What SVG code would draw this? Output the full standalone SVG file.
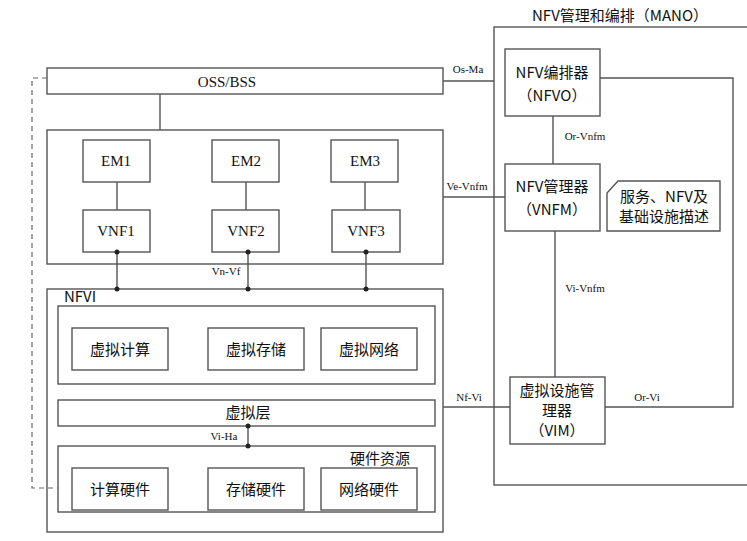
<svg xmlns="http://www.w3.org/2000/svg" width="747" height="541" viewBox="0 0 747 541">
<style>
.b{fill:#fff;stroke:#555;stroke-width:1.4}
.n{fill:none;stroke:#555;stroke-width:1.4}
.l{fill:none;stroke:#555;stroke-width:1.4}
.d{fill:none;stroke:#666;stroke-width:1.2;stroke-dasharray:5,4}
text{font-family:"Liberation Serif","Noto Sans CJK SC",serif;fill:#111;text-anchor:middle}
.t{font-size:15px}
.s{font-size:11px}
.k{font-size:15px;font-family:"Noto Sans CJK SC",sans-serif}
</style>
<rect width="747" height="541" fill="#fff"/>
<g id="mano"><rect class="n" x="494" y="27" width="260" height="458"/><text class="k" x="620" y="21">NFV管理和编排（MANO）</text></g>
<g id="oss"><rect class="b" x="47" y="68" width="396" height="26"/><text class="t" x="227" y="87">OSS/BSS</text></g>
<g id="vnfarea"><rect class="b" x="47" y="130" width="396" height="134"/></g>
<g id="em1"><rect class="b" x="83" y="140" width="67" height="42"/><text class="t" x="116" y="166">EM1</text></g>
<g id="em2"><rect class="b" x="212" y="140" width="67" height="42"/><text class="t" x="246" y="166">EM2</text></g>
<g id="em3"><rect class="b" x="331" y="140" width="67" height="42"/><text class="t" x="365" y="166">EM3</text></g>
<g id="vnf1"><rect class="b" x="83" y="210" width="67" height="42"/><text class="t" x="116" y="236">VNF1</text></g>
<g id="vnf2"><rect class="b" x="212" y="210" width="67" height="42"/><text class="t" x="246" y="236">VNF2</text></g>
<g id="vnf3"><rect class="b" x="332" y="210" width="68" height="42"/><text class="t" x="366" y="236">VNF3</text></g>
<g id="nfvi"><rect class="b" x="47" y="289" width="396" height="243"/><text class="k" x="80" y="302" font-size="13">NFVI</text></g>
<g id="virt"><rect class="b" x="58" y="306" width="377" height="78"/></g>
<g id="vcomp"><rect class="b" x="72" y="328" width="96" height="42"/><text class="k" x="120" y="355">虚拟计算</text></g>
<g id="vstor"><rect class="b" x="208" y="328" width="96" height="42"/><text class="k" x="256" y="355">虚拟存储</text></g>
<g id="vnet"><rect class="b" x="321" y="328" width="96" height="42"/><text class="k" x="369" y="355">虚拟网络</text></g>
<g id="vlayer"><rect class="b" x="58" y="400" width="377" height="26"/><text class="k" x="248" y="418">虚拟层</text></g>
<g id="hw"><rect class="b" x="58" y="446" width="377" height="66"/><text class="k" x="380" y="464">硬件资源</text></g>
<g id="hcomp"><rect class="b" x="72" y="468" width="96" height="42"/><text class="k" x="120" y="495">计算硬件</text></g>
<g id="hstor"><rect class="b" x="208" y="468" width="96" height="42"/><text class="k" x="256" y="495">存储硬件</text></g>
<g id="hnet"><rect class="b" x="321" y="468" width="96" height="42"/><text class="k" x="369" y="495">网络硬件</text></g>
<g id="nfvo"><rect class="b" x="505" y="49" width="95" height="67"/><text class="k" x="552" y="78">NFV编排器</text><text class="k" x="552" y="101">（NFVO）</text></g>
<g id="vnfm"><rect class="b" x="505" y="164" width="95" height="67"/><text class="k" x="552" y="192">NFV管理器</text><text class="k" x="552" y="215">（VNFM）</text></g>
<g id="desc"><path class="b" d="M618,181 H720 V231 H607 V193 Z"/><text class="k" x="664" y="202" font-size="13">服务、NFV及</text><text class="k" x="664" y="222" font-size="13">基础设施描述</text></g>
<g id="vim"><rect class="b" x="510" y="377" width="95" height="67"/><text class="k" x="557" y="396">虚拟设施管</text><text class="k" x="557" y="416">理器</text><text class="k" x="557" y="436">（VIM）</text></g>
<g id="connectors">
<path class="d" d="M47,78 H32 V488 H58"/>
<path class="l" d="M160,94 V130"/>
<path class="l" d="M117,182 V210 M246,182 V210 M365,182 V210"/>
<path class="l" d="M117,252 V289 M248,252 V289 M366,252 V289"/>
<path class="l" d="M248,426 V446"/>
<path class="l" d="M443,81 H494"/>
<path class="l" d="M443,197 H505"/>
<path class="l" d="M553,116 V164"/>
<path class="l" d="M555,231 V377"/>
<path class="l" d="M443,407 H510"/>
<path class="l" d="M605,407 H733 V78 H600"/>
<g fill="#222"><circle cx="117" cy="252" r="2.5"/><circle cx="248" cy="252" r="2.5"/><circle cx="366" cy="252" r="2.5"/><circle cx="117" cy="289" r="2.5"/><circle cx="248" cy="289" r="2.5"/><circle cx="366" cy="289" r="2.5"/><circle cx="248" cy="426" r="2.5"/><circle cx="248" cy="446" r="2.5"/></g>
<text class="s" x="468" y="73">Os-Ma</text>
<text class="s" x="467" y="190">Ve-Vnfm</text>
<text class="s" x="226" y="275">Vn-Vf</text>
<text class="s" x="585" y="140">Or-Vnfm</text>
<text class="s" x="585" y="292">Vi-Vnfm</text>
<text class="s" x="469" y="401">Nf-Vi</text>
<text class="s" x="647" y="401">Or-Vi</text>
<text class="s" x="224" y="440">Vi-Ha</text>
</g>
</svg>
